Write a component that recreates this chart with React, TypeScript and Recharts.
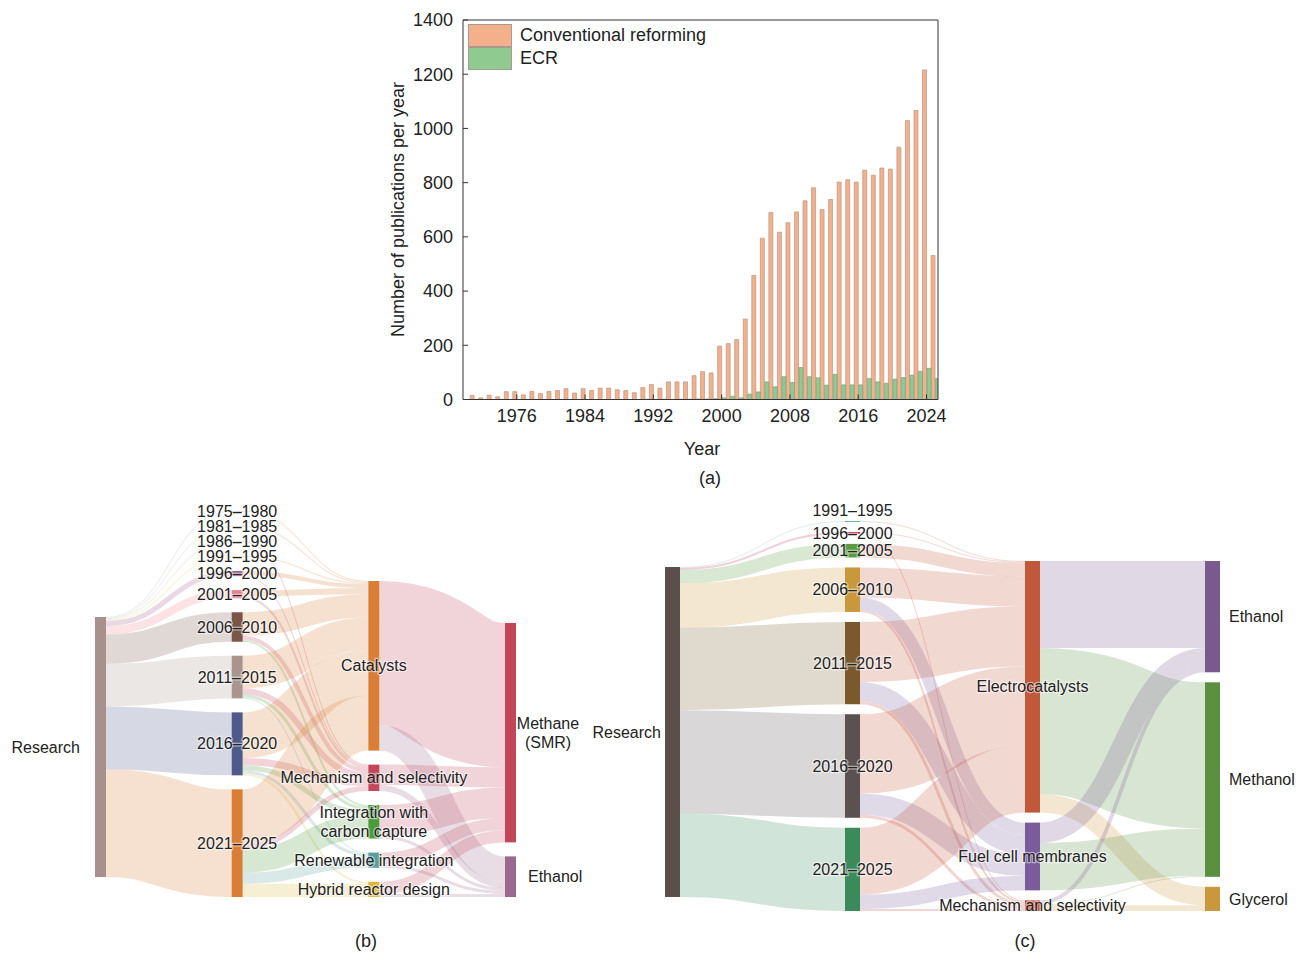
import React from "react";
import { BarChart, Bar, XAxis, YAxis, Legend, Sankey } from "recharts";

const FONT = '"Liberation Sans", Arial, Helvetica, sans-serif';

// ---------- (a) publications per year ----------
const years = [
  1971, 1972, 1973, 1974, 1975, 1976, 1977, 1978, 1979, 1980,
  1981, 1982, 1983, 1984, 1985, 1986, 1987, 1988, 1989, 1990,
  1991, 1992, 1993, 1994, 1995, 1996, 1997, 1998, 1999, 2000,
  2001, 2002, 2003, 2004, 2005, 2006, 2007, 2008, 2009, 2010,
  2011, 2012, 2013, 2014, 2015, 2016, 2017, 2018, 2019, 2020,
  2021, 2022, 2023, 2024, 2025,
];
const conventional = [
  15, 6, 16, 10, 29, 29, 17, 30, 22, 30,
  33, 40, 24, 40, 33, 42, 42, 36, 33, 25,
  44, 55, 42, 65, 65, 65, 88, 103, 98, 197,
  206, 221, 297, 458, 595, 690, 617, 652, 692, 733,
  781, 701, 738, 802, 811, 802, 846, 827, 854, 850,
  931, 1029, 1066, 1216, 531,
];
const ecr = [
  0, 0, 0, 0, 0, 0, 0, 0, 0, 0,
  0, 0, 0, 0, 0, 0, 0, 0, 0, 0,
  1, 0, 1, 0, 1, 1, 2, 2, 3, 6,
  12, 6, 20, 28, 65, 47, 84, 63, 118, 84,
  80, 53, 93, 54, 54, 54, 77, 65, 60, 75,
  81, 90, 104, 115, 77,
];
const yearTicks = [1976, 1984, 1992, 2000, 2008, 2016, 2024];
const countTicks = [0, 200, 400, 600, 800, 1000, 1200, 1400];

const pubData = years.map((year, i) => ({
  year,
  conventional: conventional[i],
  ecr: ecr[i],
}));

// ---------- (b) conventional reforming sankey ----------
const bNodes = [
  "Research",
  "1975–1980",
  "1981–1985",
  "1986–1990",
  "1991–1995",
  "1996–2000",
  "2001–2005",
  "2006–2010",
  "2011–2015",
  "2016–2020",
  "2021–2025",
  "Catalysts",
  "Mechanism and selectivity",
  "Integration with\ncarbon capture",
  "Renewable integration",
  "Hybrid reactor design",
  "Methane\n(SMR)",
  "Ethanol",
];
const bColors: Record<string, string> = {
  Research: "#a8918c",
  "1975–1980": "#9fb3cc",
  "1981–1985": "#a9c6a0",
  "1986–1990": "#b9c2a8",
  "1991–1995": "#e6c84a",
  "1996–2000": "#9a5a8c",
  "2001–2005": "#e8808e",
  "2006–2010": "#7a5548",
  "2011–2015": "#a8968e",
  "2016–2020": "#4e5a8a",
  "2021–2025": "#d97e36",
  Catalysts: "#d97e36",
  "Mechanism and selectivity": "#c2475a",
  "Integration with\ncarbon capture": "#4c9a3c",
  "Renewable integration": "#5a9e9c",
  "Hybrid reactor design": "#dcb840",
  "Methane\n(SMR)": "#c2475a",
  Ethanol: "#9a6a8e",
};
const bLinks: [string, string, number][] = [
  ["Research", "1975–1980", 1],
  ["Research", "1981–1985", 1],
  ["Research", "1986–1990", 1],
  ["Research", "1991–1995", 1],
  ["Research", "1996–2000", 5],
  ["Research", "2001–2005", 8],
  ["Research", "2006–2010", 29],
  ["Research", "2011–2015", 42],
  ["Research", "2016–2020", 62],
  ["Research", "2021–2025", 106],
  ["1975–1980", "Catalysts", 1],
  ["1981–1985", "Catalysts", 1],
  ["1986–1990", "Mechanism and selectivity", 1],
  ["1991–1995", "Catalysts", 1],
  ["1996–2000", "Catalysts", 4],
  ["1996–2000", "Mechanism and selectivity", 1],
  ["2001–2005", "Catalysts", 6],
  ["2001–2005", "Mechanism and selectivity", 2],
  ["2006–2010", "Catalysts", 23],
  ["2006–2010", "Mechanism and selectivity", 4],
  ["2006–2010", "Integration with\ncarbon capture", 2],
  ["2011–2015", "Catalysts", 32],
  ["2011–2015", "Mechanism and selectivity", 6],
  ["2011–2015", "Integration with\ncarbon capture", 3],
  ["2011–2015", "Renewable integration", 1],
  ["2016–2020", "Catalysts", 45],
  ["2016–2020", "Mechanism and selectivity", 7],
  ["2016–2020", "Integration with\ncarbon capture", 5],
  ["2016–2020", "Renewable integration", 3],
  ["2016–2020", "Hybrid reactor design", 2],
  ["2021–2025", "Catalysts", 54],
  ["2021–2025", "Mechanism and selectivity", 5],
  ["2021–2025", "Integration with\ncarbon capture", 23],
  ["2021–2025", "Renewable integration", 11],
  ["2021–2025", "Hybrid reactor design", 13],
  ["Catalysts", "Methane\n(SMR)", 142],
  ["Catalysts", "Ethanol", 25],
  ["Mechanism and selectivity", "Methane\n(SMR)", 20],
  ["Mechanism and selectivity", "Ethanol", 6],
  ["Integration with\ncarbon capture", "Methane\n(SMR)", 30],
  ["Integration with\ncarbon capture", "Ethanol", 3],
  ["Renewable integration", "Methane\n(SMR)", 12],
  ["Renewable integration", "Ethanol", 3],
  ["Hybrid reactor design", "Methane\n(SMR)", 12],
  ["Hybrid reactor design", "Ethanol", 3],
];

// ---------- (c) ECR sankey ----------
const cNodes = [
  "Research",
  "1991–1995",
  "1996–2000",
  "2001–2005",
  "2006–2010",
  "2011–2015",
  "2016–2020",
  "2021–2025",
  "Electrocatalysts",
  "Fuel cell membranes",
  "Mechanism and selectivity",
  "Ethanol",
  "Methanol",
  "Glycerol",
];
const cColors: Record<string, string> = {
  Research: "#5b4f4c",
  "1991–1995": "#6aa9a2",
  "1996–2000": "#c2305a",
  "2001–2005": "#5a9a40",
  "2006–2010": "#c9973c",
  "2011–2015": "#7a5a2c",
  "2016–2020": "#5b5150",
  "2021–2025": "#3a8a5c",
  Electrocatalysts: "#c2583a",
  "Fuel cell membranes": "#7a5c9c",
  "Mechanism and selectivity": "#c24a32",
  Ethanol: "#7a5a8e",
  Methanol: "#5a9040",
  Glycerol: "#c9973c",
};
const cLinks: [string, string, number][] = [
  ["Research", "1991–1995", 1],
  ["Research", "1996–2000", 2],
  ["Research", "2001–2005", 14],
  ["Research", "2006–2010", 46],
  ["Research", "2011–2015", 85],
  ["Research", "2016–2020", 107],
  ["Research", "2021–2025", 86],
  ["1991–1995", "Electrocatalysts", 1],
  ["1996–2000", "Electrocatalysts", 1],
  ["1996–2000", "Mechanism and selectivity", 1],
  ["2001–2005", "Electrocatalysts", 14],
  ["2006–2010", "Electrocatalysts", 31],
  ["2006–2010", "Fuel cell membranes", 13],
  ["2006–2010", "Mechanism and selectivity", 2],
  ["2011–2015", "Electrocatalysts", 62],
  ["2011–2015", "Fuel cell membranes", 20],
  ["2011–2015", "Mechanism and selectivity", 3],
  ["2016–2020", "Electrocatalysts", 82],
  ["2016–2020", "Fuel cell membranes", 22],
  ["2016–2020", "Mechanism and selectivity", 3],
  ["2021–2025", "Electrocatalysts", 69],
  ["2021–2025", "Fuel cell membranes", 15],
  ["2021–2025", "Mechanism and selectivity", 2],
  ["Electrocatalysts", "Ethanol", 90],
  ["Electrocatalysts", "Methanol", 151],
  ["Electrocatalysts", "Glycerol", 19],
  ["Fuel cell membranes", "Ethanol", 21],
  ["Fuel cell membranes", "Methanol", 49],
  ["Mechanism and selectivity", "Ethanol", 4],
  ["Mechanism and selectivity", "Methanol", 1],
  ["Mechanism and selectivity", "Glycerol", 6],
];

// label nudges (px) for crowded labels
const cLabelShift: Record<string, number> = { "1991–1995": -11 };

function toSankey(names: string[], links: [string, string, number][]) {
  return {
    nodes: names.map((name) => ({ name })),
    links: links.map(([s, t, v]) => ({
      source: names.indexOf(s),
      target: names.indexOf(t),
      value: v,
    })),
  };
}

const labelStyle = {
  fontFamily: FONT,
  fontSize: 16,
  fill: "#222",
  stroke: "#fff",
  strokeOpacity: 0.5,
  strokeWidth: 2.5,
  paintOrder: "stroke",
} as React.CSSProperties;

function makeNode(
  colors: Record<string, string>,
  leftGap: number,
  rightGap: number,
  shift: Record<string, number> = {}
) {
  return (props: any) => {
    const { x, y, width, height, payload } = props;
    const name: string = payload.name;
    const depth = payload.depth;
    const lines = name.split("\n");
    let tx = x + width / 2;
    let anchor: "start" | "middle" | "end" = "middle";
    if (depth === 0) {
      tx = x - leftGap;
      anchor = "end";
    } else if (depth === 3) {
      if (lines.length > 1) {
        tx = x + width + 32;
      } else {
        tx = x + width + rightGap;
        anchor = "start";
      }
    }
    const lh = 19;
    const cy = y + height / 2 - ((lines.length - 1) * lh) / 2 + (shift[name] || 0);
    return (
      <g>
        <rect x={x} y={y} width={width} height={Math.max(height, 0.8)} fill={colors[name]} />
        <text x={tx} y={cy} textAnchor={anchor} style={labelStyle}>
          {lines.map((l, i) => (
            <tspan key={i} x={tx} dy={i === 0 ? "0.35em" : lh}>
              {l}
            </tspan>
          ))}
        </text>
      </g>
    );
  };
}

function makeLink(colors: Record<string, string>) {
  return (props: any) => {
    const { sourceX, sourceY, sourceControlX, targetX, targetY, targetControlX, linkWidth, payload } = props;
    const color = colors[payload.target.name];
    return (
      <path
        d={`M${sourceX},${sourceY}C${sourceControlX},${sourceY} ${targetControlX},${targetY} ${targetX},${targetY}`}
        fill="none"
        stroke={color}
        strokeOpacity={0.23}
        strokeWidth={Math.max(linkWidth, 0.7)}
      />
    );
  };
}

function PubLegend({ payload }: any) {
  return (
    <div>
      {(payload || []).map((p: any) => (
        <div key={p.value} style={{ display: "flex", alignItems: "center", height: 23 }}>
          <span
            style={{
              display: "inline-block",
              width: 42,
              height: 21,
              background: p.color,
              border: "1px solid #a89a90",
              marginRight: 8,
            }}
          />
          <span style={{ fontSize: 18, color: "#222", fontFamily: FONT }}>{p.value}</span>
        </div>
      ))}
    </div>
  );
}

const caption = (text: string, cx: number, cy: number): React.ReactNode => (
  <div
    style={{
      position: "absolute",
      left: cx - 60,
      top: cy - 11,
      width: 120,
      textAlign: "center",
      fontSize: 18,
      color: "#222",
    }}
  >
    {text}
  </div>
);

export default function App() {
  const axisTick = { fontSize: 18, fill: "#222", fontFamily: FONT };
  return (
    <div
      style={{
        position: "absolute",
        left: 0,
        top: 0,
        width: 1296,
        height: 953,
        background: "#fff",
        fontFamily: FONT,
        overflow: "hidden",
      }}
    >
      {/* (a) */}
      <div style={{ position: "absolute", left: 380, top: 0 }}>
        <BarChart
          width={580}
          height={470}
          data={pubData}
          margin={{ top: 19, right: 21, bottom: 40, left: 30 }}
          barGap={0.5}
          barCategoryGap={0.3}
        >
          <XAxis
            dataKey="year"
            type="number"
            domain={[1969.7, 2025.35]}
            ticks={yearTicks}
            height={30.5}
            tick={axisTick}
            tickSize={-5}
            tickMargin={15}
            stroke="#333"
            allowDataOverflow
          />
          <XAxis
            xAxisId="top"
            orientation="top"
            dataKey="year"
            type="number"
            domain={[1969.7, 2025.35]}
            height={1}
            tick={false}
            tickLine={false}
            stroke="#333"
            allowDataOverflow
          />
          <YAxis
            domain={[0, 1400]}
            ticks={countTicks}
            width={53}
            tick={axisTick}
            tickSize={-5}
            tickMargin={15}
            stroke="#333"
            interval={0}
          />
          <YAxis
            yAxisId="right"
            orientation="right"
            domain={[0, 1400]}
            width={1}
            tick={false}
            tickLine={false}
            stroke="#333"
          />
          <Legend
            layout="horizontal"
            verticalAlign="middle"
            align="center"
            content={<PubLegend />}
            wrapperStyle={{ top: 24, left: 88, width: "auto", height: "auto" }}
          />
          <Bar dataKey="conventional" name="Conventional reforming" fill="#f3b08b" stroke="#b89684" strokeWidth={0.7} isAnimationActive={false} />
          <Bar dataKey="ecr" name="ECR" fill="#8fca90" stroke="#7ea080" strokeWidth={0.7} isAnimationActive={false} />
        </BarChart>
      </div>
      <div
        style={{
          position: "absolute",
          left: 398 - 160,
          top: 210 - 11,
          width: 320,
          textAlign: "center",
          fontSize: 18,
          color: "#222",
          transform: "rotate(-90deg)",
        }}
      >
        Number of publications per year
      </div>
      {caption("Year", 702, 450)}
      {caption("(a)", 710, 479)}

      {/* (b) */}
      <div style={{ position: "absolute", left: 0, top: 500 }}>
        <Sankey
          width={590}
          height={430}
          data={toSankey(bNodes, bLinks)}
          margin={{ top: 11, right: 74, bottom: 33, left: 95 }}
          nodeWidth={11}
          nodePadding={14}
          sort={false}
          node={makeNode(bColors, 15, 12)}
          link={makeLink(bColors)}
        />
      </div>
      {caption("(b)", 366, 942)}

      {/* (c) */}
      <div style={{ position: "absolute", left: 585, top: 500 }}>
        <Sankey
          width={711}
          height={430}
          data={toSankey(cNodes, cLinks)}
          margin={{ top: 21, right: 76, bottom: 19, left: 80 }}
          nodeWidth={15}
          nodePadding={10}
          sort={false}
          node={makeNode(cColors, 4, 9, cLabelShift)}
          link={makeLink(cColors)}
        />
      </div>
      {caption("(c)", 1025, 942)}
    </div>
  );
}
